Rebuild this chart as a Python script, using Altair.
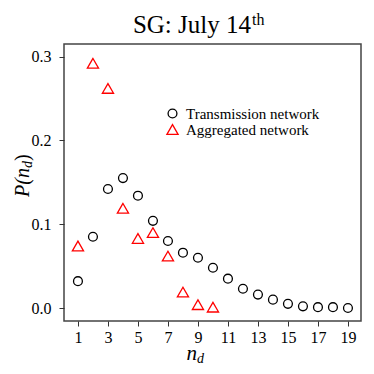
import altair as alt
import pandas as pd

# Data
nd_trans = list(range(1, 20))
p_trans = [0.032, 0.085, 0.142, 0.155, 0.134, 0.104, 0.080, 0.066, 0.060, 0.048,
           0.035, 0.023, 0.016, 0.010, 0.005, 0.002, 0.001, 0.001, 0.000]
nd_agg = list(range(1, 11))
p_agg = [0.074, 0.292, 0.262, 0.119, 0.083, 0.090, 0.062, 0.019, 0.004, 0.001]
series_names = ["Transmission network", "Aggregated network"]
x_ticks = [1, 3, 5, 7, 9, 11, 13, 15, 17, 19]
y_ticks = [0.0, 0.1, 0.2, 0.3]

df = pd.concat([
    pd.DataFrame({"nd": nd_trans, "p": p_trans, "series": series_names[0]}),
    pd.DataFrame({"nd": nd_agg, "p": p_agg, "series": series_names[1]}),
])

SERIF = "Liberation Serif"
W, H = 297, 277

leg = dict(title=None, orient="none", legendX=101, legendY=62, labelFont=SERIF,
           labelFontSize=15, labelColor="black", rowPadding=0, padding=0,
           symbolStrokeWidth=1.3, labelOffset=6)

points = alt.Chart(df).mark_point(filled=False, strokeWidth=1.3, opacity=1).encode(
    x=alt.X("nd:Q", scale=alt.Scale(domain=[0.07, 19.87], nice=False, zero=False),
            axis=alt.Axis(values=x_ticks, title=None, grid=False, domain=False,
                          tickSize=5, tickColor="#333", labelFont=SERIF,
                          labelFontSize=16, labelColor="black", labelPadding=3,
                          labelFlush=False)),
    y=alt.Y("p:Q", scale=alt.Scale(domain=[-0.0155, 0.315], nice=False, zero=False),
            axis=alt.Axis(values=y_ticks, format=".1f", title=None, grid=False,
                          domain=False, tickSize=5, tickColor="#333",
                          labelFont=SERIF, labelFontSize=16, labelColor="black",
                          labelPadding=8)),
    shape=alt.Shape("series:N", scale=alt.Scale(domain=series_names,
                                                range=["circle", "triangle-up"]),
                    legend=alt.Legend(**leg)),
    color=alt.Color("series:N", scale=alt.Scale(domain=series_names,
                                                range=["black", "red"]),
                    legend=alt.Legend(**leg)),
    size=alt.Size("series:N", scale=alt.Scale(domain=series_names, range=[78, 125]),
                  legend=alt.Legend(**leg)),
)

one = pd.DataFrame({"k": [0]})

def txt(text, x, y, size, align="left", italic=False, angle=0, baseline="alphabetic"):
    kw = dict(text=text, font=SERIF, fontSize=size, align=align, baseline=baseline,
              color="black")
    if italic:
        kw["fontStyle"] = "italic"
    if angle:
        kw["angle"] = angle
    return alt.Chart(one).mark_text(**kw).encode(x=alt.value(x), y=alt.value(y))

annotations = [
    txt("SG: July 14", 187, -11, 25, align="right"),
    txt("th", 188, -19, 16),
    txt("n", 133, 316, 21, align="right", italic=True),
    txt("d", 133, 319, 14, italic=True),
    txt("P(n", -35, 124, 20, align="right", italic=True, angle=270),
    txt("d", -32, 124, 14, italic=True, angle=270),
    txt(")", -35, 117, 20, angle=270),
]

chart = alt.layer(points, *annotations).properties(
    width=W, height=H,
    background="white",
    autosize=alt.AutoSizeParams(type="none"),
    padding={"left": 56, "top": 36, "right": 5, "bottom": 45},
).configure_view(stroke="#444", strokeWidth=1.5)

chart.save("out.html", embed_options={"renderer": "svg", "actions": False})
